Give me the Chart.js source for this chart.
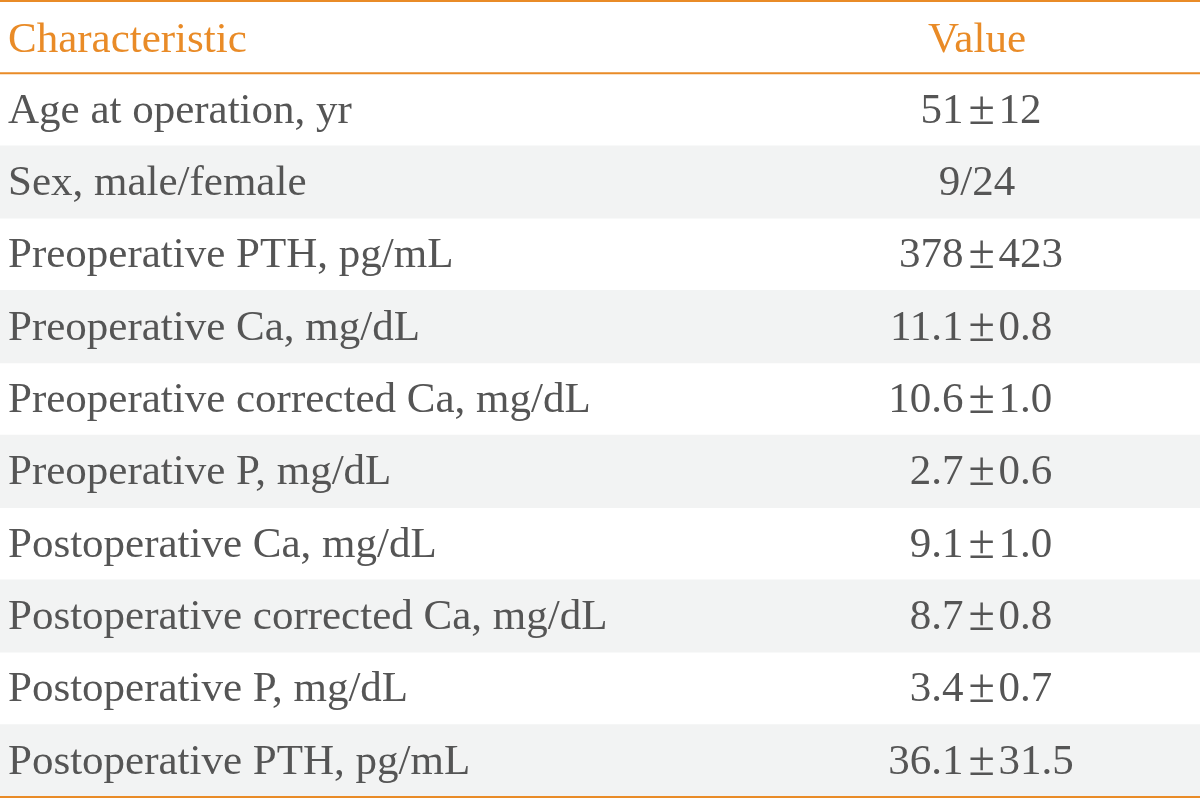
<!DOCTYPE html>
<html>
<head>
<meta charset="utf-8">
<script src="https://cdn.jsdelivr.net/npm/chart.js@4/dist/chart.umd.min.js"></script>
<style>
html,body{margin:0;padding:0;background:#fff;}
canvas{display:block;}
</style>
</head>
<body>
<canvas id="c" width="1200" height="799"></canvas>
<script>
// Table content
const headers = ["Characteristic", "Value"];
const characteristics = [
  "Age at operation, yr",
  "Sex, male/female",
  "Preoperative PTH, pg/mL",
  "Preoperative Ca, mg/dL",
  "Preoperative corrected Ca, mg/dL",
  "Preoperative P, mg/dL",
  "Postoperative Ca, mg/dL",
  "Postoperative corrected Ca, mg/dL",
  "Postoperative P, mg/dL",
  "Postoperative PTH, pg/mL"
];
const valueLabels = [
  "51\u00B112",
  "9/24",
  "378\u00B1423",
  "11.1\u00B10.8",
  "10.6\u00B11.0",
  "2.7\u00B10.6",
  "9.1\u00B11.0",
  "8.7\u00B10.8",
  "3.4\u00B10.7",
  "36.1\u00B131.5"
];

const rowLabels = [headers[0]].concat(characteristics);
const ORANGE = "#e98b27";
const TEXT = "#555555";
const STRIPE = "#f2f3f3";
const FONT = "43px 'Liberation Serif', 'Times New Roman', serif";
const PM_FONT = "48px 'Liberation Serif', 'Times New Roman', serif";

const tablePlugin = {
  id: "tableText",
  afterDatasetsDraw(chart) {
    const ctx = chart.ctx;
    const y = chart.scales.y;
    const x = chart.scales.x;
    const left = x.getPixelForValue(0);
    const right = x.getPixelForValue(1);
    const W = right - left;
    const step = y.getPixelForValue(1) - y.getPixelForValue(0);
    const pmX = left + W * 0.818;
    const headX = left + W * 0.8142;
    ctx.save();
    ctx.textBaseline = "alphabetic";
    rowLabels.forEach((lab, i) => {
      const cy = y.getPixelForValue(i);
      const base = cy + (i === 0 ? 15 : 13);
      ctx.font = FONT;
      ctx.fillStyle = i === 0 ? ORANGE : TEXT;
      ctx.textAlign = "left";
      ctx.fillText(lab, left + 8, base);
      if (i === 0) {
        ctx.textAlign = "center";
        ctx.fillText(headers[1], headX, base);
        return;
      }
      const v = valueLabels[i - 1];
      const parts = v.split("\u00B1");
      if (parts.length === 2) {
        ctx.textAlign = "right";
        ctx.fillText(parts[0], pmX - 18, base);
        ctx.textAlign = "left";
        ctx.fillText(parts[1], pmX + 17, base);
        ctx.font = PM_FONT;
        ctx.textAlign = "center";
        ctx.fillText("\u00B1", pmX, base + 1);
      } else {
        ctx.textAlign = "center";
        ctx.fillText(v, headX, base);
      }
    });
    // rules
    ctx.strokeStyle = ORANGE;
    ctx.lineWidth = 2;
    const top = y.getPixelForValue(0) - step / 2;
    const headBottom = y.getPixelForValue(0) + step / 2;
    const bottom = y.getPixelForValue(rowLabels.length - 1) + step / 2;
    [top, headBottom, bottom].forEach(yy => {
      ctx.beginPath();
      ctx.moveTo(left, yy);
      ctx.lineTo(right, yy);
      ctx.stroke();
    });
    ctx.restore();
  }
};

new Chart(document.getElementById("c"), {
  type: "bar",
  data: {
    labels: rowLabels,
    datasets: [{
      data: rowLabels.map(() => [0, 1]),
      backgroundColor: rowLabels.map((_, i) => (i > 0 && i % 2 === 0) ? STRIPE : "rgba(0,0,0,0)"),
      borderWidth: 0,
      barPercentage: 1,
      categoryPercentage: 1
    }]
  },
  options: {
    indexAxis: "y",
    responsive: false,
    animation: false,
    layout: { padding: { top: 1, bottom: 2, left: 0, right: 0 } },
    plugins: { legend: { display: false }, tooltip: { enabled: false } },
    scales: {
      x: { type: "linear", min: 0, max: 1, display: false },
      y: { type: "category", display: false, offset: true }
    }
  },
  plugins: [tablePlugin]
});
</script>
</body>
</html>
